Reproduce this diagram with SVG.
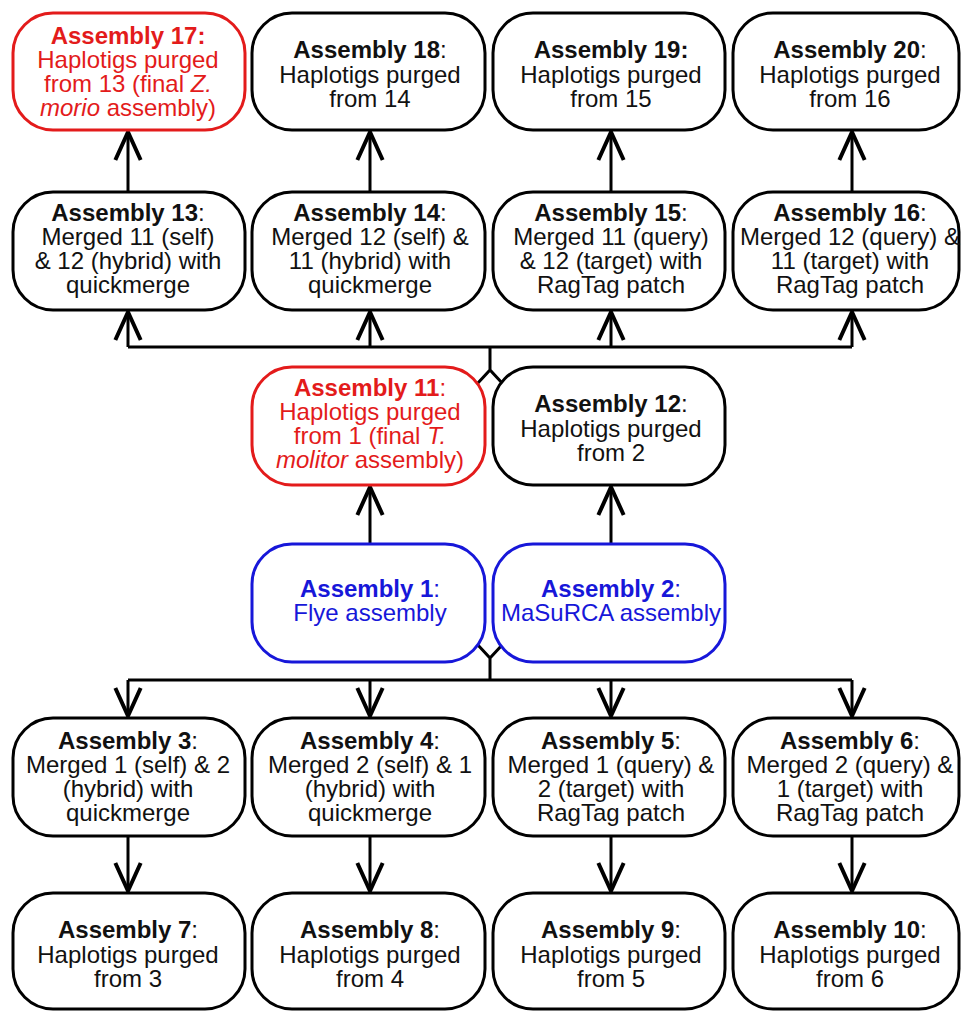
<svg xmlns="http://www.w3.org/2000/svg" width="961" height="1011" viewBox="0 0 961 1011">
<style>
text{font-family:"Liberation Sans",Arial,sans-serif;font-size:24px;text-anchor:middle;fill:#111}
.b{font-weight:bold}
.i{font-style:italic}
rect{fill:#fff;stroke:#000;stroke-width:3}
.red rect{stroke:#e31b1b}
.red text{fill:#e31b1b}
.blue rect{stroke:#1717d9}
.blue text{fill:#1717d9}
.c path{fill:none;stroke:#000;stroke-width:3}
</style>
<defs>
<marker id="ah" markerUnits="userSpaceOnUse" markerWidth="40" markerHeight="40" viewBox="-25 -15 30 30" refX="0" refY="0" orient="auto" overflow="visible">
<path d="M-21,-9.5 L0,0 L-21,9.5" fill="none" stroke="#000" stroke-width="3"/>
</marker>
</defs>
<rect x="0" y="0" width="961" height="1011" style="fill:#fff;stroke:none"/>
<g class="c" id="connectors">
<path d="M128,191 V132" marker-end="url(#ah)"/>
<path d="M370,191 V132" marker-end="url(#ah)"/>
<path d="M611,191 V132" marker-end="url(#ah)"/>
<path d="M852,191 V132" marker-end="url(#ah)"/>
<path d="M128,347 H852"/>
<path d="M128,347 V312" marker-end="url(#ah)"/>
<path d="M370,347 V312" marker-end="url(#ah)"/>
<path d="M611,347 V312" marker-end="url(#ah)"/>
<path d="M852,347 V312" marker-end="url(#ah)"/>
<path d="M490,347 V370 M477,384 L490,370 L503,384"/>
<path d="M370,543 V487" marker-end="url(#ah)"/>
<path d="M611,543 V487" marker-end="url(#ah)"/>
<path d="M477,644 L490,658 L503,644 M490,658 V680"/>
<path d="M128,680 H852"/>
<path d="M128,680 V716" marker-end="url(#ah)"/>
<path d="M370,680 V716" marker-end="url(#ah)"/>
<path d="M611,680 V716" marker-end="url(#ah)"/>
<path d="M852,680 V716" marker-end="url(#ah)"/>
<path d="M128,837 V891" marker-end="url(#ah)"/>
<path d="M370,837 V891" marker-end="url(#ah)"/>
<path d="M611,837 V891" marker-end="url(#ah)"/>
<path d="M852,837 V891" marker-end="url(#ah)"/>
</g>
<!-- Row 1 -->
<g id="a17" class="red"><rect x="13" y="13" width="232" height="117" rx="40"/>
<text x="128" y="44"><tspan class="b">Assembly 17:</tspan></text>
<text x="128" y="68">Haplotigs purged</text>
<text x="128" y="92">from 13 (final <tspan class="i">Z.</tspan></text>
<text x="128" y="116"><tspan class="i">morio</tspan> assembly)</text></g>
<g id="a18"><rect x="252" y="13" width="233" height="117" rx="40"/>
<text x="370" y="58"><tspan class="b">Assembly 18</tspan>:</text>
<text x="370" y="83">Haplotigs purged</text>
<text x="370" y="107">from 14</text></g>
<g id="a19"><rect x="493" y="13" width="232" height="117" rx="40"/>
<text x="611" y="58"><tspan class="b">Assembly 19:</tspan></text>
<text x="611" y="83">Haplotigs purged</text>
<text x="611" y="107">from 15</text></g>
<g id="a20"><rect x="733" y="13" width="226" height="117" rx="40"/>
<text x="850" y="58"><tspan class="b">Assembly 20</tspan>:</text>
<text x="850" y="83">Haplotigs purged</text>
<text x="850" y="107">from 16</text></g>
<!-- Row 2 -->
<g id="a13"><rect x="13" y="192" width="232" height="118" rx="40"/>
<text x="128" y="221"><tspan class="b">Assembly 13</tspan>:</text>
<text x="128" y="245">Merged 11 (self)</text>
<text x="128" y="269">&amp; 12 (hybrid) with</text>
<text x="128" y="293">quickmerge</text></g>
<g id="a14"><rect x="252" y="192" width="233" height="118" rx="40"/>
<text x="370" y="221"><tspan class="b">Assembly 14</tspan>:</text>
<text x="370" y="245">Merged 12 (self) &amp;</text>
<text x="370" y="269">11 (hybrid) with</text>
<text x="370" y="293">quickmerge</text></g>
<g id="a15"><rect x="493" y="192" width="232" height="118" rx="40"/>
<text x="611" y="221"><tspan class="b">Assembly 15</tspan>:</text>
<text x="611" y="245">Merged 11 (query)</text>
<text x="611" y="269">&amp; 12 (target) with</text>
<text x="611" y="293">RagTag patch</text></g>
<g id="a16"><rect x="733" y="192" width="226" height="118" rx="40"/>
<text x="850" y="221"><tspan class="b">Assembly 16</tspan>:</text>
<text x="850" y="245">Merged 12 (query) &amp;</text>
<text x="850" y="269">11 (target) with</text>
<text x="850" y="293">RagTag patch</text></g>
<!-- Row 3 -->
<g id="a11" class="red"><rect x="252" y="367" width="233" height="118" rx="40"/>
<text x="370" y="396"><tspan class="b">Assembly 11</tspan>:</text>
<text x="370" y="420">Haplotigs purged</text>
<text x="370" y="444">from 1 (final <tspan class="i">T.</tspan></text>
<text x="370" y="468"><tspan class="i">molitor</tspan> assembly)</text></g>
<g id="a12"><rect x="493" y="367" width="232" height="118" rx="40"/>
<text x="611" y="412"><tspan class="b">Assembly 12</tspan>:</text>
<text x="611" y="437">Haplotigs purged</text>
<text x="611" y="461">from 2</text></g>
<!-- Row 4 -->
<g id="a1" class="blue"><rect x="252" y="544" width="233" height="118" rx="40"/>
<text x="370" y="597"><tspan class="b">Assembly 1</tspan>:</text>
<text x="370" y="621">Flye assembly</text></g>
<g id="a2" class="blue"><rect x="493" y="544" width="232" height="118" rx="40"/>
<text x="611" y="597"><tspan class="b">Assembly 2</tspan>:</text>
<text x="611" y="621">MaSuRCA assembly</text></g>
<!-- Row 5 -->
<g id="a3"><rect x="13" y="718" width="232" height="118" rx="40"/>
<text x="128" y="749"><tspan class="b">Assembly 3</tspan>:</text>
<text x="128" y="773">Merged 1 (self) &amp; 2</text>
<text x="128" y="797">(hybrid) with</text>
<text x="128" y="821">quickmerge</text></g>
<g id="a4"><rect x="252" y="718" width="233" height="118" rx="40"/>
<text x="370" y="749"><tspan class="b">Assembly 4</tspan>:</text>
<text x="370" y="773">Merged 2 (self) &amp; 1</text>
<text x="370" y="797">(hybrid) with</text>
<text x="370" y="821">quickmerge</text></g>
<g id="a5"><rect x="493" y="718" width="232" height="118" rx="40"/>
<text x="611" y="749"><tspan class="b">Assembly 5</tspan>:</text>
<text x="611" y="773">Merged 1 (query) &amp;</text>
<text x="611" y="797">2 (target) with</text>
<text x="611" y="821">RagTag patch</text></g>
<g id="a6"><rect x="733" y="718" width="226" height="118" rx="40"/>
<text x="850" y="749"><tspan class="b">Assembly 6</tspan>:</text>
<text x="850" y="773">Merged 2 (query) &amp;</text>
<text x="850" y="797">1 (target) with</text>
<text x="850" y="821">RagTag patch</text></g>
<!-- Row 6 -->
<g id="a7"><rect x="13" y="893" width="232" height="116" rx="40"/>
<text x="128" y="938"><tspan class="b">Assembly 7</tspan>:</text>
<text x="128" y="963">Haplotigs purged</text>
<text x="128" y="987">from 3</text></g>
<g id="a8"><rect x="252" y="893" width="233" height="116" rx="40"/>
<text x="370" y="938"><tspan class="b">Assembly 8</tspan>:</text>
<text x="370" y="963">Haplotigs purged</text>
<text x="370" y="987">from 4</text></g>
<g id="a9"><rect x="493" y="893" width="232" height="116" rx="40"/>
<text x="611" y="938"><tspan class="b">Assembly 9</tspan>:</text>
<text x="611" y="963">Haplotigs purged</text>
<text x="611" y="987">from 5</text></g>
<g id="a10"><rect x="733" y="893" width="226" height="116" rx="40"/>
<text x="850" y="938"><tspan class="b">Assembly 10</tspan>:</text>
<text x="850" y="963">Haplotigs purged</text>
<text x="850" y="987">from 6</text></g>
</svg>
